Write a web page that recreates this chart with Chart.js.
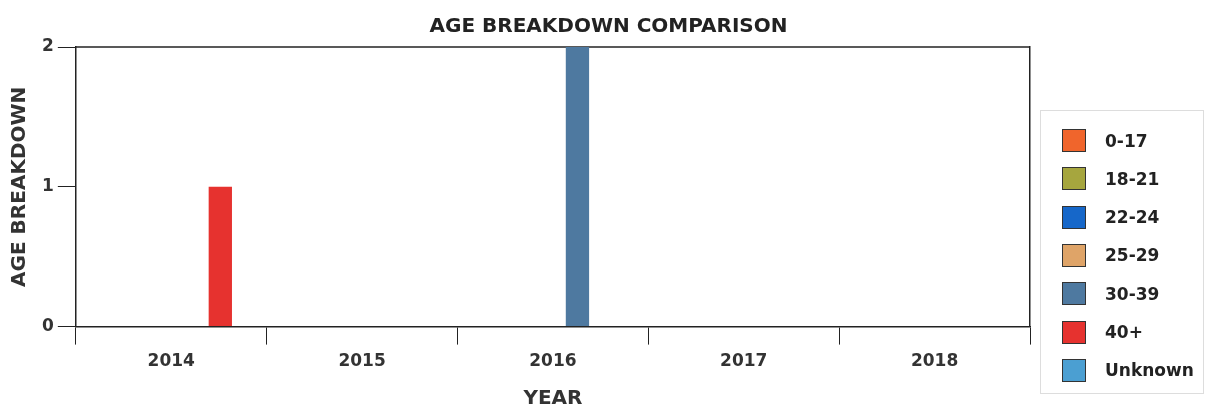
<!DOCTYPE html>
<html>
<head>
<meta charset="utf-8">
<script src="https://cdn.jsdelivr.net/npm/chart.js@4.4.1/dist/chart.umd.min.js"></script>
<style>
  body { margin: 0; background: #fff; }
  #wrap { position: relative; width: 1209px; height: 409px; }
  #leyenda {
    position: absolute; left: 1040px; top: 110px; width: 164px; height: 284px;
    border: 1px solid #ddd; box-sizing: border-box;
    font-family: "DejaVu Sans", sans-serif; font-weight: bold; font-size: 17px; color: #222;
  }
  .item { position: absolute; left: 21px; height: 25px; display: flex; align-items: center; }
  .caja { width: 24px; height: 23px; border: 1px solid #333; box-sizing: border-box; margin-right: 19px; }
</style>
</head>
<body>
<div id="wrap">
  <canvas id="grafica"></canvas>
  <div id="leyenda"></div>
</div>
<script>
const anios = ['2014', '2015', '2016', '2017', '2018'];
const grupos = ['0-17', '18-21', '22-24', '25-29', '30-39', '40+', 'Unknown'];
const colores = ['#f0652c', '#a6a63e', '#1667c9', '#dfa468', '#4e79a0', '#e6322f', '#4b9fd2'];

// valores por grupo de edad (uno por año)
const v0_17    = [0, 0, 0, 0, 0];
const v18_21   = [0, 0, 0, 0, 0];
const v22_24   = [0, 0, 0, 0, 0];
const v25_29   = [0, 0, 0, 0, 0];
const v30_39   = [0, 0, 2, 0, 0];
const v40      = [1, 0, 0, 0, 0];
const vUnknown = [0, 0, 0, 0, 0];
const valores = [v0_17, v18_21, v22_24, v25_29, v30_39, v40, vUnknown];

const yTicks = [0, 1, 2];

const fuente = "'DejaVu Sans', sans-serif";

// leyenda en html
const leyenda = document.getElementById('leyenda');
grupos.forEach((g, i) => {
  const div = document.createElement('div');
  div.className = 'item';
  div.style.top = (17 + i * 38.3) + 'px';
  div.innerHTML = '<span class="caja" style="background:' + colores[i] + '"></span><span>' + g + '</span>';
  leyenda.appendChild(div);
});

// linea de arriba del area de la grafica
const marco = {
  id: 'marco',
  beforeDatasetsDraw(chart) {
    const a = chart.chartArea;
    const ctx = chart.ctx;
    ctx.save();
    ctx.strokeStyle = '#222';
    ctx.lineWidth = 1.5;
    ctx.beginPath();
    ctx.moveTo(a.left, a.top);
    ctx.lineTo(a.right, a.top);
    ctx.stroke();
    ctx.restore();
  }
};

const ctx = document.getElementById('grafica').getContext('2d');
new Chart(ctx, {
  type: 'bar',
  data: {
    labels: anios,
    datasets: grupos.map((g, i) => ({
      label: g,
      data: valores[i],
      backgroundColor: colores[i],
      borderWidth: 0
    }))
  },
  options: {
    responsive: true,
    maintainAspectRatio: false,
    animation: false,
    categoryPercentage: 0.9,
    barPercentage: 0.95,
    layout: { padding: { left: 8, right: 0, bottom: 0 } },
    plugins: {
      legend: { display: false },
      tooltip: { enabled: false },
      title: {
        display: true,
        text: 'AGE BREAKDOWN COMPARISON',
        color: '#222',
        font: { family: fuente, size: 20, weight: 'bold' },
        padding: { top: 15, bottom: 8 }
      }
    },
    scales: {
      x: {
        grid: { drawOnChartArea: false, drawTicks: true, tickLength: 18, color: '#222', offset: true },
        border: { display: true, color: '#222', width: 1.5 },
        ticks: { color: '#333', font: { family: fuente, size: 17, weight: 'bold' }, padding: 7 },
        title: {
          display: true, text: 'YEAR', color: '#333',
          font: { family: fuente, size: 20, weight: 'bold', lineHeight: 1 },
          padding: { top: 10, bottom: 0 }
        }
      },
      y: {
        min: 0,
        max: 2,
        afterBuildTicks: s => { s.ticks = yTicks.map(v => ({ value: v })); },
        grid: { drawOnChartArea: false, drawTicks: true, tickLength: 18, color: '#222' },
        border: { display: true, color: '#222', width: 1.5 },
        ticks: { color: '#333', font: { family: fuente, size: 17, weight: 'bold' }, padding: 4 },
        title: {
          display: true, text: 'AGE BREAKDOWN', color: '#333',
          font: { family: fuente, size: 20, weight: 'bold' },
          padding: { top: 0, bottom: 6 }
        }
      },
      derecha: {
        position: 'right',
        display: true,
        grid: { display: false },
        ticks: { display: false },
        border: { display: true, color: '#222', width: 1.5 },
        afterFit: s => { s.width = 179; }
      }
    }
  },
  plugins: [marco]
});
</script>
</body>
</html>
